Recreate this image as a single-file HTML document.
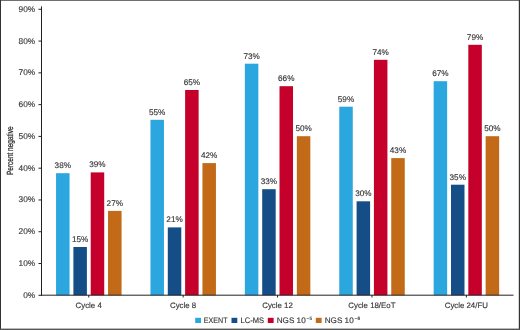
<!DOCTYPE html>
<html lang="en"><head><meta charset="utf-8"><title>Percent negative by cycle</title>
<style>
html,body{margin:0;padding:0;background:#fff;}
body{width:520px;height:330px;overflow:hidden;position:relative;}
svg{position:absolute;left:0;top:0;display:block;}
text{font-family:"Liberation Sans",Arial,Helvetica,sans-serif;fill:#343436;stroke:#343436;stroke-width:0.14px;text-rendering:geometricPrecision;}
</style></head><body>
<svg width="520" height="330" viewBox="0 0 520 330">
<rect x="0" y="0" width="520" height="330" fill="#fff"/>
<rect x="0" y="0" width="520" height="0.7" fill="#333"/>
<rect x="0" y="0" width="1" height="330" fill="#333"/>
<rect x="518.8" y="0" width="1.2" height="330" fill="#333"/>
<rect x="0" y="328.6" width="520" height="1.4" fill="#555"/>
<rect x="56.06" y="173.20" width="13.50" height="122.10" fill="#2BA6DE"/>
<text x="62.81" y="168.05" font-size="8.2" text-anchor="middle">38%</text>
<rect x="73.39" y="247.00" width="13.50" height="48.30" fill="#154D86"/>
<text x="80.14" y="241.85" font-size="8.2" text-anchor="middle">15%</text>
<rect x="90.72" y="172.40" width="13.50" height="122.90" fill="#C4002B"/>
<text x="97.47" y="167.25" font-size="8.2" text-anchor="middle">39%</text>
<rect x="108.05" y="210.90" width="13.50" height="84.40" fill="#C26A17"/>
<text x="114.80" y="205.75" font-size="8.2" text-anchor="middle">27%</text>
<rect x="88.25" y="295.00" width="1" height="2.5" fill="#222"/>
<text x="88.70" y="308" font-size="7.85" text-anchor="middle">Cycle 4</text>
<rect x="150.46" y="119.80" width="13.50" height="175.50" fill="#2BA6DE"/>
<text x="157.21" y="114.65" font-size="8.2" text-anchor="middle">55%</text>
<rect x="167.79" y="227.40" width="13.50" height="67.90" fill="#154D86"/>
<text x="174.54" y="222.25" font-size="8.2" text-anchor="middle">21%</text>
<rect x="185.12" y="90.00" width="13.50" height="205.30" fill="#C4002B"/>
<text x="191.87" y="84.85" font-size="8.2" text-anchor="middle">65%</text>
<rect x="202.44" y="163.10" width="13.50" height="132.20" fill="#C26A17"/>
<text x="209.19" y="157.95" font-size="8.2" text-anchor="middle">42%</text>
<rect x="182.65" y="295.00" width="1" height="2.5" fill="#222"/>
<text x="183.10" y="308" font-size="7.85" text-anchor="middle">Cycle 8</text>
<rect x="244.85" y="63.70" width="13.50" height="231.60" fill="#2BA6DE"/>
<text x="251.60" y="58.55" font-size="8.2" text-anchor="middle">73%</text>
<rect x="262.19" y="189.20" width="13.50" height="106.10" fill="#154D86"/>
<text x="268.94" y="184.05" font-size="8.2" text-anchor="middle">33%</text>
<rect x="279.51" y="86.20" width="13.50" height="209.10" fill="#C4002B"/>
<text x="286.26" y="81.05" font-size="8.2" text-anchor="middle">66%</text>
<rect x="296.84" y="136.20" width="13.50" height="159.10" fill="#C26A17"/>
<text x="303.59" y="131.05" font-size="8.2" text-anchor="middle">50%</text>
<rect x="277.05" y="295.00" width="1" height="2.5" fill="#222"/>
<text x="277.50" y="308" font-size="7.85" text-anchor="middle">Cycle 12</text>
<rect x="339.26" y="106.70" width="13.50" height="188.60" fill="#2BA6DE"/>
<text x="346.01" y="101.55" font-size="8.2" text-anchor="middle">59%</text>
<rect x="356.59" y="201.30" width="13.50" height="94.00" fill="#154D86"/>
<text x="363.34" y="196.15" font-size="8.2" text-anchor="middle">30%</text>
<rect x="373.92" y="59.80" width="13.50" height="235.50" fill="#C4002B"/>
<text x="380.67" y="54.65" font-size="8.2" text-anchor="middle">74%</text>
<rect x="391.25" y="158.10" width="13.50" height="137.20" fill="#C26A17"/>
<text x="398.00" y="152.95" font-size="8.2" text-anchor="middle">43%</text>
<rect x="371.45" y="295.00" width="1" height="2.5" fill="#222"/>
<text x="371.90" y="308" font-size="7.85" text-anchor="middle">Cycle 18/EoT</text>
<rect x="433.66" y="81.20" width="13.50" height="214.10" fill="#2BA6DE"/>
<text x="440.41" y="76.05" font-size="8.2" text-anchor="middle">67%</text>
<rect x="450.99" y="184.70" width="13.50" height="110.60" fill="#154D86"/>
<text x="457.74" y="179.55" font-size="8.2" text-anchor="middle">35%</text>
<rect x="468.32" y="44.80" width="13.50" height="250.50" fill="#C4002B"/>
<text x="475.07" y="39.65" font-size="8.2" text-anchor="middle">79%</text>
<rect x="485.65" y="136.20" width="13.50" height="159.10" fill="#C26A17"/>
<text x="492.40" y="131.05" font-size="8.2" text-anchor="middle">50%</text>
<rect x="465.85" y="295.00" width="1" height="2.5" fill="#222"/>
<text x="466.30" y="308" font-size="7.85" text-anchor="middle">Cycle 24/FU</text>
<rect x="41.00" y="6.4" width="1" height="289.40" fill="#222"/>
<rect x="41.00" y="294.68" width="472.50" height="1" fill="#222"/>
<rect x="38.50" y="294.80" width="3" height="1" fill="#222"/>
<text x="35.2" y="297.80" font-size="8.3" text-anchor="end">0%</text>
<rect x="38.50" y="263.02" width="3" height="1" fill="#222"/>
<text x="35.2" y="266.02" font-size="8.3" text-anchor="end">10%</text>
<rect x="38.50" y="231.24" width="3" height="1" fill="#222"/>
<text x="35.2" y="234.24" font-size="8.3" text-anchor="end">20%</text>
<rect x="38.50" y="199.46" width="3" height="1" fill="#222"/>
<text x="35.2" y="202.46" font-size="8.3" text-anchor="end">30%</text>
<rect x="38.50" y="167.68" width="3" height="1" fill="#222"/>
<text x="35.2" y="170.68" font-size="8.3" text-anchor="end">40%</text>
<rect x="38.50" y="135.90" width="3" height="1" fill="#222"/>
<text x="35.2" y="138.90" font-size="8.3" text-anchor="end">50%</text>
<rect x="38.50" y="104.12" width="3" height="1" fill="#222"/>
<text x="35.2" y="107.12" font-size="8.3" text-anchor="end">60%</text>
<rect x="38.50" y="72.34" width="3" height="1" fill="#222"/>
<text x="35.2" y="75.34" font-size="8.3" text-anchor="end">70%</text>
<rect x="38.50" y="40.56" width="3" height="1" fill="#222"/>
<text x="35.2" y="43.56" font-size="8.3" text-anchor="end">80%</text>
<rect x="38.50" y="8.78" width="3" height="1" fill="#222"/>
<text x="35.2" y="11.78" font-size="8.3" text-anchor="end">90%</text>
<text transform="translate(13.45,150.7) rotate(-90) scale(0.729,1)" font-size="8.9" style="stroke-width:0.3px" text-anchor="middle">Percent negative</text>
<rect x="195.20" y="317.8" width="5.8" height="5.2" fill="#2BA6DE"/>
<text x="203.80" y="322.7" font-size="8" textLength="23.7" lengthAdjust="spacingAndGlyphs">EXENT</text>
<rect x="231.50" y="317.8" width="5.8" height="5.2" fill="#154D86"/>
<text x="240.50" y="322.7" font-size="8" textLength="23.5" lengthAdjust="spacingAndGlyphs">LC-MS</text>
<rect x="267.80" y="317.8" width="5.8" height="5.2" fill="#C4002B"/>
<text x="276.70" y="322.7" font-size="8" textLength="29.0" lengthAdjust="spacingAndGlyphs">NGS 10</text>
<text x="306.60" y="320" font-size="4.8">−5</text>
<rect x="315.80" y="317.8" width="5.8" height="5.2" fill="#C26A17"/>
<text x="324.70" y="322.7" font-size="8" textLength="29.0" lengthAdjust="spacingAndGlyphs">NGS 10</text>
<text x="354.60" y="320" font-size="4.8">−6</text>
</svg>
</body></html>
